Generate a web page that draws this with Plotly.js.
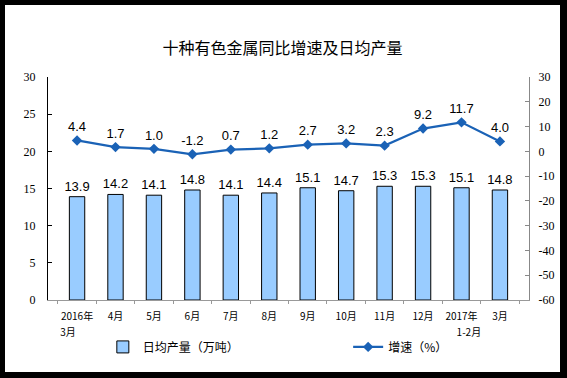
<!DOCTYPE html>
<html><head><meta charset="utf-8">
<script src="https://cdn.plot.ly/plotly-3.0.1.min.js"></script>
<style>
html,body{margin:0;padding:0;background:#000;width:567px;height:378px;overflow:hidden;}
#chart{position:absolute;left:5px;top:5px;width:555px;height:367px;background:#fff;}
</style></head>
<body><div id="chart"></div>
<script>
const categories = ["2016年3月","4月","5月","6月","7月","8月","9月","10月","11月","12月","2017年1-2月","3月"];
const tickLine1 = ["2016年","4月","5月","6月","7月","8月","9月","10月","11月","12月","2017年","3月"];
const tickLine2 = ["3月","","","","","","","","","","1-2月",""];
const dailyOutput = [13.9,14.2,14.1,14.8,14.1,14.4,15.1,14.7,15.3,15.3,15.1,14.8];
const growthRate = [4.4,1.7,1.0,-1.2,0.7,1.2,2.7,3.2,2.3,9.2,11.7,4.0];
const leftTicks = [0,5,10,15,20,25,30];
const rightTicks = [-60,-50,-40,-30,-20,-10,0,10,20,30];

const numFont = {family:"Liberation Sans, Arial", size:13, color:"#000"};
const tickFont = {family:"Liberation Serif, Times New Roman", size:12, color:"#000"};
const cjk = "Noto Sans CJK SC";
const xTickFont = {family:cjk, size:10, color:"#000"};
const idx = categories.map((c,i)=>i);

const traces = [
  {type:"bar", x:categories, y:dailyOutput, name:"日均产量（万吨）", legend:"legend",
   marker:{color:"#99CCFF", line:{color:"#000", width:1}},
   text:dailyOutput.map(v=>v.toFixed(1)), textposition:"outside", cliponaxis:false,
   constraintext:"none", textfont:numFont, hoverinfo:"none"},
  {type:"scatter", mode:"lines+markers+text", x:categories, y:growthRate, yaxis:"y2",
   name:"增速（%）", legend:"legend2", line:{color:"#1A62B6", width:2.2},
   marker:{symbol:"diamond", size:8, color:"#1A62B6"},
   text:growthRate.map(v=>v.toFixed(1)), textposition:"top center", cliponaxis:false,
   textfont:numFont, hoverinfo:"none"},
  // helper (invisible) so the second-line tick axis is drawn
  {type:"scatter", mode:"markers", x:idx, y:dailyOutput, xaxis:"x2", yaxis:"y",
   marker:{opacity:0, size:1}, showlegend:false, hoverinfo:"none"}
];

const legFont = {family:cjk, size:12, color:"#000"};
const layout = {
  width:555, height:367,
  margin:{l:43, r:31, t:72, b:71},
  paper_bgcolor:"#fff", plot_bgcolor:"#fff",
  title:{text:"十种有色金属同比增速及日均产量", font:{family:cjk, size:16, color:"#000"},
         x:0.5, xanchor:"center", y:0.883, yanchor:"middle"},
  bargap:0.6,
  showlegend:true,
  legend:{orientation:"h", x:0.114, xanchor:"left", y:-0.205, yanchor:"middle",
          font:legFont, itemwidth:30, bgcolor:"rgba(0,0,0,0)"},
  legend2:{orientation:"h", x:0.624, xanchor:"left", y:-0.205, yanchor:"middle",
          font:legFont, itemwidth:30, bgcolor:"rgba(0,0,0,0)"},
  xaxis:{type:"category", showline:true, linecolor:"#999", linewidth:1,
         tickvals:categories, ticktext:tickLine1,
         ticks:"outside", tickson:"boundaries", ticklen:3, tickcolor:"#999", tickangle:0,
         tickfont:xTickFont, showgrid:false, zeroline:false, ticklabelstandoff:7},
  xaxis2:{type:"linear", overlaying:"x", side:"bottom", anchor:"y",
          range:[-0.5, categories.length-0.5],
          tickvals:tickLine2.map((t,i)=>t?i:null).filter(v=>v!==null),
          ticktext:tickLine2.filter(t=>t),
          showline:false, ticks:"", tickangle:0, tickfont:xTickFont,
          showgrid:false, zeroline:false, ticklabelstandoff:25},
  yaxis:{range:[0,30], tickvals:leftTicks, ticktext:leftTicks.map(String),
         showline:true, linecolor:"#000", linewidth:1,
         ticks:"inside", ticklen:4, tickcolor:"#000", tickfont:tickFont, showgrid:false,
         zeroline:false, ticklabelstandoff:9},
  yaxis2:{range:[-60,30], tickvals:rightTicks, ticktext:rightTicks.map(String),
          overlaying:"y", side:"right",
          showline:true, linecolor:"#888", linewidth:1, ticks:"inside", ticklen:4,
          tickcolor:"#888", tickfont:tickFont, showgrid:false, zeroline:false,
          ticklabelstandoff:6}
};
Plotly.newPlot("chart", traces, layout, {displayModeBar:false, staticPlot:true});
</script></body></html>
